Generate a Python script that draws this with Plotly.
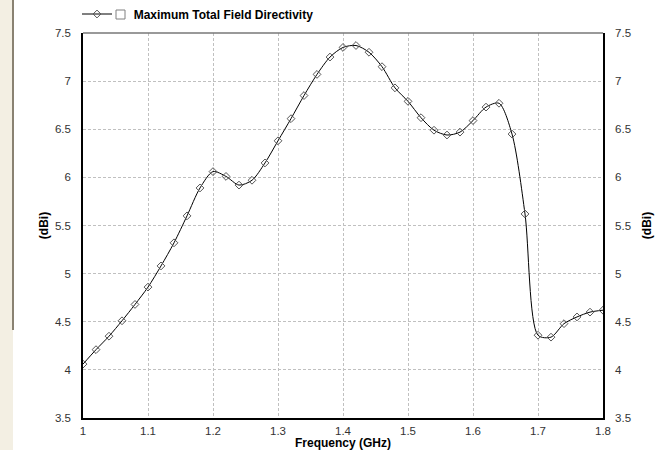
import plotly.graph_objects as go

freq_ghz = [1.00, 1.02, 1.04, 1.06, 1.08, 1.10, 1.12, 1.14, 1.16, 1.18,
            1.20, 1.22, 1.24, 1.26, 1.28, 1.30, 1.32, 1.34, 1.36, 1.38,
            1.40, 1.42, 1.44, 1.46, 1.48, 1.50, 1.52, 1.54, 1.56, 1.58,
            1.60, 1.62, 1.64, 1.66, 1.68, 1.70, 1.72, 1.74, 1.76, 1.78, 1.80]
directivity_dbi = [4.06, 4.21, 4.35, 4.51, 4.68, 4.86, 5.08, 5.32, 5.60, 5.89,
                   6.06, 6.01, 5.92, 5.97, 6.15, 6.38, 6.61, 6.85, 7.07, 7.25,
                   7.35, 7.37, 7.30, 7.15, 6.93, 6.79, 6.62, 6.49, 6.44, 6.47,
                   6.59, 6.73, 6.77, 6.45, 5.62, 4.36, 4.34, 4.48, 4.55, 4.60, 4.62]
series_name = "Maximum Total Field Directivity"
x_ticks = [1.0, 1.1, 1.2, 1.3, 1.4, 1.5, 1.6, 1.7, 1.8]
x_tick_labels = ["1", "1.1", "1.2", "1.3", "1.4", "1.5", "1.6", "1.7", "1.8"]
y_ticks = [3.5, 4, 4.5, 5, 5.5, 6, 6.5, 7, 7.5]
y_tick_labels = ["3.5", "4", "4.5", "5", "5.5", "6", "6.5", "7", "7.5"]

FONT = "Liberation Sans, Arial, sans-serif"
tickfont = dict(family=FONT, size=11.5, color="#333333")
titlefont = dict(family=FONT, size=12, color="#000000")

fig = go.Figure()
fig.add_trace(go.Scatter(
    x=freq_ghz, y=directivity_dbi, name="     <b>" + series_name + "</b>",
    mode="lines+markers",
    line=dict(color="#000000", width=1, shape="spline", smoothing=0.8),
    marker=dict(symbol="diamond-open", size=6, color="#555555", line=dict(width=1)),
    hoverinfo="x+y",
))
fig.add_trace(go.Scatter(
    x=freq_ghz, y=directivity_dbi, yaxis="y2", mode="lines",
    line=dict(width=0), opacity=0, showlegend=False, hoverinfo="skip",
))

grid = dict(showgrid=True, gridcolor="#c0c0c0", griddash="3px,2px", gridwidth=1)

fig.update_layout(
    width=669, height=450,
    margin=dict(l=83, r=66, t=33, b=32, autoexpand=False),
    paper_bgcolor="white", plot_bgcolor="white",
    showlegend=True,
    legend=dict(x=(77 - 83) / 520, y=(418 - 14) / 385, xanchor="left", yanchor="middle",
                font=dict(family=FONT, size=12, color="#000000"),
                bgcolor="rgba(0,0,0,0)", itemwidth=30, borderwidth=0),
    xaxis=dict(range=[1.0, 1.8], tickvals=x_ticks, ticktext=x_tick_labels,
               tickfont=tickfont, showline=True, linecolor="#000000", linewidth=1.5,
               ticks="", ticklabelstandoff=1, zeroline=False, automargin=False,
               title=dict(text="<b>Frequency (GHz)</b>", font=titlefont, standoff=0),
               **grid),
    yaxis=dict(range=[3.5, 7.5], tickvals=y_ticks, ticktext=y_tick_labels,
               tickfont=tickfont, showline=True, linecolor="#000000", linewidth=1.5,
               ticks="", ticklabelstandoff=8, zeroline=False, automargin=False,
               title=dict(text="<b>(dBi)</b>", font=titlefont, standoff=4),
               **grid),
    yaxis2=dict(range=[3.5, 7.5], tickvals=y_ticks, ticktext=y_tick_labels,
                overlaying="y", side="right", tickfont=tickfont,
                showline=True, linecolor="#000000", linewidth=1.5, automargin=False,
                ticks="", ticklabelstandoff=8, zeroline=False, showgrid=False,
                title=dict(text="<b>(dBi)</b>", font=titlefont, standoff=13)),
    shapes=[
        dict(type="line", xref="paper", yref="paper", x0=0, x1=1, y0=1, y1=1,
             line=dict(color="#777777", width=1.5)),
        dict(type="rect", xref="paper", yref="paper",
             x0=(116 - 83) / 520, x1=(125 - 83) / 520,
             y0=(418 - 19) / 385, y1=(418 - 10) / 385,
             line=dict(color="#808080", width=1), fillcolor="white"),
        dict(type="rect", xref="paper", yref="paper",
             x0=-83 / 520, x1=-70 / 520, y0=-0.09, y1=1.09,
             line=dict(width=0), fillcolor="#f3efe3"),
        dict(type="line", xref="paper", yref="paper",
             x0=-70 / 520, x1=-70 / 520, y0=(418 - 330) / 385, y1=1.09,
             line=dict(color="#8a8272", width=2)),
    ],
)

fig.write_html("out.html", config={"displayModeBar": False},
               post_script="document.body.style.margin='0px';document.body.style.overflow='hidden';")
